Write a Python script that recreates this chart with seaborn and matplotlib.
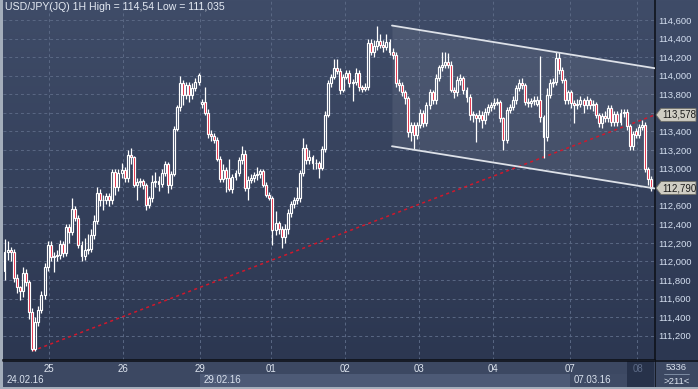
import matplotlib
matplotlib.use("Agg")
import matplotlib.pyplot as plt
import matplotlib.ticker as mticker
from matplotlib.colors import LinearSegmentedColormap
from matplotlib.patches import Polygon, Rectangle
import numpy as np
import pandas as pd
import seaborn as sns

sns.set_theme(style="dark")
plt.rcParams["font.family"] = ["Liberation Sans", "DejaVu Sans"]

W, H = 698, 389

# hourly USD/JPY bars, 24.02.16 .. 08.03.16
opens = [
    111.90, 112.10, 112.12, 112.10, 111.82, 111.72, 111.68, 111.88, 111.78, 111.45,
    111.06, 111.35, 111.48, 111.64, 111.94, 112.18, 112.05, 112.06, 112.07, 112.19,
    112.09, 112.37, 112.32, 112.56, 112.47, 112.18, 112.06, 112.12, 112.13, 112.28,
    112.43, 112.74, 112.66, 112.66, 112.70, 112.66, 112.96, 112.80, 112.95, 112.98,
    112.90, 113.15, 113.12, 112.82, 112.86, 112.87, 112.82, 112.61, 112.68, 112.85,
    112.87, 112.83, 112.95, 113.05, 112.82, 112.94, 113.43, 113.66, 113.92, 113.79,
    113.90, 113.79, 113.87, 113.93, 113.69, 113.72, 113.60, 113.37, 113.35, 113.31,
    113.10, 112.89, 112.98, 112.90, 112.78, 112.91, 112.95, 113.09, 113.16, 112.79,
    112.88, 112.90, 112.93, 112.94, 112.97, 112.82, 112.72, 112.68, 112.34, 112.41,
    112.35, 112.26, 112.35, 112.52, 112.62, 112.66, 112.68, 112.95, 113.22, 113.09,
    113.12, 113.06, 113.06, 113.01, 113.21, 113.58, 113.92, 113.99, 114.08, 114.05,
    113.85, 113.99, 114.03, 113.92, 113.93, 114.03, 113.88, 113.86, 113.88, 114.35,
    114.25, 114.32, 114.37, 114.33, 114.31, 114.36, 114.25, 114.22, 113.92, 113.90,
    113.82, 113.76, 113.39, 113.47, 113.36, 113.47, 113.60, 113.49, 113.68, 113.82,
    113.74, 113.98, 114.09, 114.12, 114.15, 114.12, 113.85, 113.82, 113.95, 113.98,
    113.85, 113.77, 113.58, 113.58, 113.54, 113.58, 113.52, 113.61, 113.66, 113.68,
    113.71, 113.72, 113.54, 113.31, 113.63, 113.66, 113.74, 113.87, 113.92, 113.90,
    113.72, 113.71, 113.73, 113.70, 113.74, 113.55, 113.34, 113.79, 113.92, 113.93,
    114.19, 114.06, 113.95, 113.74, 113.82, 113.71, 113.68, 113.70, 113.74, 113.68,
    113.74, 113.68, 113.70, 113.58, 113.49, 113.57, 113.54, 113.65, 113.50, 113.59,
    113.50, 113.60, 113.61, 113.46, 113.24, 113.40, 113.36, 113.45, 113.47, 112.99, 112.89,
]
highs = [
    112.24, 112.22, 112.15, 112.13, 111.86, 111.74, 111.94, 111.92, 111.80, 111.50,
    111.40, 111.52, 111.68, 111.98, 112.22, 112.22, 112.10, 112.12, 112.23, 112.22,
    112.40, 112.40, 112.68, 112.60, 112.50, 112.22, 112.25, 112.30, 112.35, 112.50,
    112.80, 112.78, 112.72, 112.74, 112.74, 113.00, 113.00, 112.99, 113.06, 113.02,
    113.20, 113.22, 113.14, 112.90, 112.90, 112.89, 112.84, 112.70, 112.93, 112.96,
    112.92, 113.00, 113.08, 113.07, 112.97, 113.46, 113.68, 114.00, 113.95, 113.93,
    113.93, 113.92, 113.98, 114.03, 113.75, 113.88, 113.64, 113.42, 113.38, 113.34,
    113.14, 113.05, 113.02, 113.10, 112.94, 112.98, 113.12, 113.24, 113.20, 112.92,
    112.94, 112.96, 113.02, 113.00, 113.00, 112.85, 112.75, 112.70, 112.54, 112.44,
    112.38, 112.40, 112.56, 112.65, 112.69, 112.80, 112.98, 113.33, 113.26, 113.20,
    113.15, 113.10, 113.08, 113.24, 113.62, 113.95, 114.02, 114.18, 114.18, 114.08,
    114.02, 114.06, 114.06, 113.96, 114.08, 114.06, 113.90, 113.92, 114.40, 114.40,
    114.38, 114.54, 114.45, 114.38, 114.45, 114.40, 114.30, 114.25, 113.96, 113.93,
    113.85, 113.78, 113.50, 113.50, 113.50, 113.64, 113.63, 113.72, 113.86, 113.85,
    114.02, 114.12, 114.26, 114.26, 114.24, 114.16, 113.88, 114.00, 114.02, 114.00,
    113.88, 113.80, 113.62, 113.60, 113.63, 113.62, 113.65, 113.70, 113.72, 113.76,
    113.76, 113.74, 113.56, 113.66, 113.70, 113.78, 113.90, 113.96, 113.97, 113.92,
    113.76, 113.76, 113.78, 113.78, 114.21, 113.58, 113.87, 113.96, 113.98, 114.25,
    114.25, 114.09, 113.97, 113.85, 113.85, 113.74, 113.75, 113.78, 113.76, 113.78,
    113.76, 113.74, 113.72, 113.60, 113.60, 113.62, 113.68, 113.68, 113.62, 113.62,
    113.64, 113.64, 113.64, 113.48, 113.40, 113.44, 113.48, 113.52, 113.50, 113.02, 112.92,
]
lows = [
    111.80, 112.02, 112.00, 111.78, 111.66, 111.58, 111.62, 111.74, 111.38, 111.035,
    111.04, 111.30, 111.44, 111.60, 111.90, 112.00, 111.89, 112.00, 112.03, 112.05,
    112.06, 112.20, 112.28, 112.43, 112.14, 112.00, 112.02, 112.08, 112.10, 112.24,
    112.40, 112.60, 112.55, 112.62, 112.60, 112.62, 112.72, 112.76, 112.90, 112.85,
    112.86, 113.05, 112.80, 112.66, 112.80, 112.78, 112.55, 112.57, 112.64, 112.80,
    112.76, 112.80, 112.92, 112.74, 112.78, 112.92, 113.40, 113.62, 113.68, 113.75,
    113.72, 113.75, 113.84, 113.90, 113.65, 113.58, 113.33, 113.30, 113.28, 113.08,
    112.86, 112.85, 112.75, 112.76, 112.74, 112.88, 112.92, 113.05, 112.76, 112.66,
    112.84, 112.86, 112.88, 112.90, 112.80, 112.69, 112.66, 112.18, 112.28, 112.30,
    112.14, 112.20, 112.30, 112.48, 112.58, 112.62, 112.64, 112.92, 113.05, 113.05,
    113.00, 113.00, 112.90, 112.98, 113.18, 113.55, 113.88, 113.96, 114.02, 113.80,
    113.82, 113.96, 113.88, 113.73, 113.90, 113.84, 113.82, 113.83, 113.85, 114.22,
    114.20, 114.28, 114.30, 114.26, 114.28, 114.22, 114.18, 113.88, 113.84, 113.78,
    113.70, 113.34, 113.30, 113.21, 113.32, 113.44, 113.45, 113.46, 113.64, 113.70,
    113.70, 113.94, 114.05, 114.08, 114.08, 113.82, 113.76, 113.78, 113.90, 113.80,
    113.72, 113.52, 113.50, 113.29, 113.50, 113.44, 113.48, 113.58, 113.62, 113.64,
    113.68, 113.50, 113.20, 113.28, 113.60, 113.63, 113.70, 113.84, 113.86, 113.68,
    113.66, 113.66, 113.68, 113.67, 113.50, 113.11, 113.30, 113.76, 113.88, 113.90,
    114.02, 113.92, 113.70, 113.70, 113.65, 113.49, 113.64, 113.66, 113.60, 113.64,
    113.64, 113.62, 113.54, 113.45, 113.44, 113.50, 113.50, 113.46, 113.46, 113.46,
    113.47, 113.56, 113.42, 113.20, 113.20, 113.33, 113.33, 113.42, 112.96, 112.82, 112.76,
]
closes = [
    112.10, 112.12, 112.10, 111.82, 111.72, 111.68, 111.88, 111.78, 111.45, 111.06,
    111.35, 111.48, 111.64, 111.94, 112.18, 112.05, 112.06, 112.07, 112.19, 112.09,
    112.37, 112.32, 112.56, 112.47, 112.18, 112.06, 112.12, 112.13, 112.28, 112.43,
    112.74, 112.66, 112.66, 112.70, 112.66, 112.96, 112.80, 112.95, 112.98, 112.90,
    113.15, 113.12, 112.82, 112.86, 112.87, 112.82, 112.61, 112.68, 112.85, 112.87,
    112.83, 112.95, 113.05, 112.82, 112.94, 113.43, 113.66, 113.92, 113.79, 113.90,
    113.79, 113.87, 113.93, 114.01, 113.72, 113.60, 113.37, 113.35, 113.31, 113.10,
    112.89, 112.98, 112.90, 112.78, 112.91, 112.95, 113.09, 113.16, 112.79, 112.88,
    112.90, 112.93, 112.94, 112.97, 112.82, 112.72, 112.68, 112.34, 112.41, 112.35,
    112.26, 112.35, 112.52, 112.62, 112.66, 112.68, 112.95, 113.22, 113.09, 113.12,
    113.06, 113.06, 113.01, 113.21, 113.58, 113.92, 113.99, 114.08, 114.05, 113.85,
    113.99, 114.03, 113.92, 113.93, 114.03, 113.88, 113.86, 113.88, 114.35, 114.25,
    114.32, 114.37, 114.33, 114.31, 114.36, 114.25, 114.22, 113.92, 113.90, 113.82,
    113.76, 113.39, 113.47, 113.36, 113.47, 113.60, 113.49, 113.68, 113.82, 113.74,
    113.98, 114.09, 114.12, 114.15, 114.12, 113.85, 113.82, 113.95, 113.98, 113.85,
    113.77, 113.58, 113.58, 113.54, 113.58, 113.52, 113.61, 113.66, 113.68, 113.71,
    113.72, 113.54, 113.31, 113.63, 113.66, 113.74, 113.87, 113.92, 113.90, 113.72,
    113.71, 113.73, 113.74, 113.74, 113.55, 113.34, 113.79, 113.92, 113.93, 114.19,
    114.06, 113.95, 113.74, 113.82, 113.71, 113.68, 113.70, 113.74, 113.68, 113.74,
    113.68, 113.70, 113.58, 113.49, 113.57, 113.54, 113.65, 113.50, 113.59, 113.50,
    113.60, 113.61, 113.46, 113.24, 113.37, 113.36, 113.45, 113.47, 112.99, 112.89, 112.79,
]

day_labels = ["25", "26", "29", "01", "02", "03", "04", "07", "08"]
day_bounds = [14.5, 38.5, 63.5, 86.5, 110.5, 134.5, 158.5, 183.5, 205.5]
week_labels = ["24.02.16", "29.02.16", "07.03.16"]
week_bounds = [-0.5, 63.5, 183.5, 202.0]
price_ticks = [111.2, 111.4, 111.6, 111.8, 112.0, 112.2, 112.4, 112.6, 112.8,
               113.0, 113.2, 113.4, 113.6, 113.8, 114.0, 114.2, 114.4, 114.6]

channel_x = [125.8, 211.2]
channel_top = [114.54, 114.08]
channel_bottom = [113.24, 112.785]
trend_x = [9, 211.2]
trend_y = [111.035, 113.578]

title = "USD/JPY(JQ) 1H High = 114,54 Low = 111,035"
bar_count = "5336"
visible_bars = ">211<"

df = pd.DataFrame({"open": opens, "high": highs, "low": lows, "close": closes})
df["x"] = np.arange(len(df))

RED = "#e0142f"
BG_TOP, BG_BOT = "#3f4c68", "#2c3751"
tag_prices = [trend_y[-1], closes[-1]]


def px_box(x0, y0, x1, y1):
    return [x0 / W, 1 - y1 / H, (x1 - x0) / W, (y1 - y0) / H]


def price_fmt(v, _):
    # scale labels hidden under the price tags
    if any(abs(v - p) < 0.06 for p in tag_prices):
        return ""
    return f"{v:.3f}".replace(".", ",")


fig = plt.figure(figsize=(W / 100, H / 100), dpi=100, facecolor="#a4aebb")

# gradient background behind plot + right scale
bg = fig.add_axes(px_box(3, 0, 698, 360))
cmap = LinearSegmentedColormap.from_list("bg", [BG_TOP, BG_BOT])
bg.imshow(np.linspace(0, 1, 256).reshape(-1, 1), cmap=cmap, aspect="auto",
          extent=[0, 1, 0, 1], origin="upper")
bg.set_axis_off()

ax = fig.add_axes(px_box(3, 0, 655, 360))
ax.set_facecolor("none")
ax.set_xlim(-0.49, 211.2)
ax.set_ylim(110.938, 114.815)

# grid
ax.set_yticks(price_ticks)
ax.set_xticks(day_bounds)
ax.grid(True, color="#5a6884", lw=0.7, ls=(0, (3, 3)))
ax.tick_params(axis="x", length=0, labelbottom=False)
ax.yaxis.tick_right()
ax.tick_params(axis="y", length=0, pad=2.6, labelsize=6.8, labelcolor="#d4dff0")
ax.yaxis.set_major_formatter(mticker.FuncFormatter(price_fmt))
for s in ["top", "left"]:
    ax.spines[s].set_visible(False)
for s in ["right", "bottom"]:
    ax.spines[s].set_color("#0c0f16")
    ax.spines[s].set_linewidth(1.1)

# channel
ax.fill_between(channel_x, channel_bottom, channel_top, color="white", alpha=0.08, lw=0, zorder=1)
sns.lineplot(x=channel_x, y=channel_top, ax=ax, color="#dde1e8", lw=1.3, zorder=4)
sns.lineplot(x=channel_x, y=channel_bottom, ax=ax, color="#dde1e8", lw=1.3, zorder=4)
sns.lineplot(x=trend_x, y=trend_y, ax=ax, color="#d0182c", lw=1.1, ls=(0, (2, 2.2)), zorder=2)

# candles
body_lo = df[["open", "close"]].min(axis=1)
body_hi = df[["open", "close"]].max(axis=1)
up = df["close"] >= df["open"]
ax.vlines(df["x"], df["low"], body_lo, color="white", lw=0.9, zorder=3)
ax.vlines(df["x"], body_hi, df["high"], color="white", lw=0.9, zorder=3)
faces = [(0, 0, 0, 0) if u else RED for u in up]
ax.bar(df["x"], (body_hi - body_lo).clip(lower=0.004), bottom=body_lo, width=0.64,
       color=faces, edgecolor="white", linewidth=0.85, zorder=3)

ax.text(2 / 652, 1 - 2 / 360, title, transform=ax.transAxes, ha="left", va="top",
        fontsize=7.6, color="#e4eaf3")

# price tags on the right scale
fig.canvas.draw()
for price in tag_prices:
    _, yd = ax.transData.transform((0, price))
    xs = 656
    pts = [(xs, yd), (xs + 5, yd + 6.5), (xs + 40, yd + 6.5), (xs + 40, yd - 6.5), (xs + 5, yd - 6.5)]
    fig.patches.append(Polygon(pts, closed=True, transform=None, fc="#cfcdc3", ec="#6c6c64",
                               lw=0.6, zorder=10))
    fig.text((xs + 23) / W, yd / H, f"{price:.3f}".replace(".", ","), ha="center", va="center",
             fontsize=6.9, color="#1a1a1a", zorder=11)

# bottom time scale
bax = fig.add_axes(px_box(3, 360, 655, 387))
bax.set_xlim(ax.get_xlim())
bax.set_ylim(27, 0)
bax.set_facecolor("#3c4862")
bax.set_axis_off()
bax.add_patch(Rectangle((-1, 0), 215, 27, fc="#3c4862", ec="none", zorder=0))
week_faces = ["#3c4862", "#4d5a76", "#3f4b65"]
for i, lab in enumerate(week_labels):
    x0, x1 = week_bounds[i], week_bounds[i + 1]
    bax.add_patch(Rectangle((x0, 13.5), x1 - x0, 13.5, fc=week_faces[i], ec="none", zorder=1))
    bax.text(x0 + 1.2, 20, lab, ha="left", va="center", fontsize=6.9, color="#dbe3ef", zorder=3)
bax.add_patch(Rectangle((202.2, 0.5), 8.8, 27, fc="#27324a", ec="none", zorder=2))
for xb, lab in zip(day_bounds, day_labels):
    bax.text(xb, 8.5, lab, ha="center", va="center", fontsize=6.9,
             color="#5e6c88" if lab == "08" else "#dfe6f0", zorder=3)

# corner box
cax = fig.add_axes(px_box(655, 360, 698, 387))
cax.set_xlim(0, 43)
cax.set_ylim(27, 0)
cax.set_facecolor("#3c4862")
cax.set_xticks([])
cax.set_yticks([])
for s in cax.spines.values():
    s.set_visible(False)
cax.axvline(0, color="#0c0f16", lw=1.1)
cax.text(21.5, 7.5, bar_count, ha="center", va="center", fontsize=6.8, color="#dbe3ef")
cax.text(21.5, 21, visible_bars, ha="center", va="center", fontsize=6.8, color="#dbe3ef")
cax.plot([9, 34], [14, 14], color="#8796ad", lw=0.6)

fig.add_artist(plt.Line2D([3 / W, 1], [1 - 360.5 / H] * 2, color="#0c0f16", lw=1.1))

fig.savefig("out.png", dpi=100, facecolor=fig.get_facecolor())
